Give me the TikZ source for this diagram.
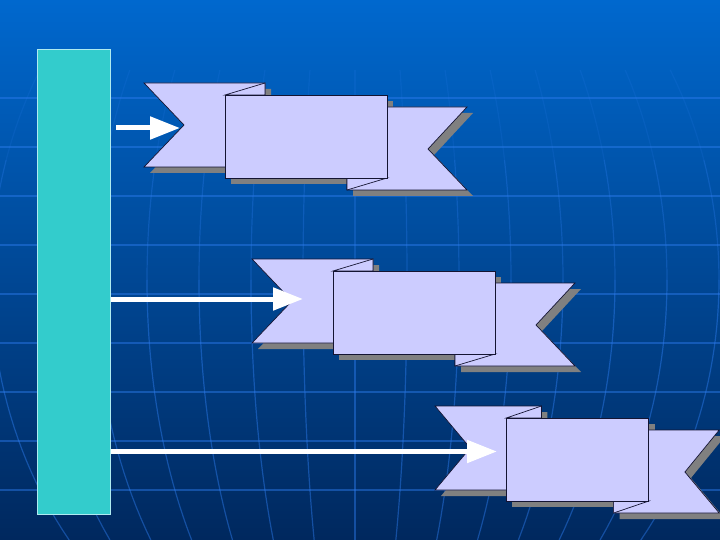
\documentclass[tikz,border=0pt]{standalone}
\usetikzlibrary{arrows.meta}
\definecolor{bgtop}{RGB}{0,104,206}
\definecolor{bgmid}{RGB}{0,72,150}
\definecolor{bgbot}{RGB}{0,40,94}
\definecolor{gridc}{RGB}{45,125,240}
\definecolor{ribbonfill}{RGB}{204,204,255}
\definecolor{ribbonline}{RGB}{20,20,50}
\definecolor{barfill}{RGB}{51,204,204}
\definecolor{barline}{RGB}{175,235,240}
\definecolor{shadowc}{RGB}{128,128,128}
\tikzset{
  ribbonpart/.style={fill=ribbonfill, draw=ribbonline, line width=0.7pt, line join=miter},
  shadowpart/.style={fill=shadowc, draw=none},
  gridline/.style={draw=gridc, line width=1.2pt, opacity=0.45},
  whitearrow/.style={draw=white, line width=5pt, -{Triangle[length=30pt,width=22pt]}},
  barbox/.style={draw=barline, fill=barfill, line width=0.8pt, inner sep=0pt},
}
\newcommand{\ribbon}[4]{%
  \begin{scope}[shift={(#2+6,#3+6)}, xscale=#4]
    \fill[shadowpart] (0,0) -- (121,0) -- (121,84) -- (0,84) -- (40,42) -- cycle;
    \fill[shadowpart] (203,24) -- (323,24) -- (284,66) -- (323,107) -- (203,107) -- cycle;
    \fill[shadowpart] (81,12) rectangle (243,95);
  \end{scope}
  \begin{scope}[shift={(#2,#3)}, xscale=#4]
    \path[ribbonpart] (0,0) -- (121,0) -- (121,84) -- (0,84) -- (40,42) -- cycle;
    \path[ribbonpart] (81,12) -- (121,0) -- (121,12) -- cycle;
    \path[ribbonpart] (203,24) -- (323,24) -- (284,66) -- (323,107) -- (203,107) -- cycle;
    \path[ribbonpart] (203,95) -- (243,95) -- (203,107) -- cycle;
    \path[ribbonpart] (81,12) rectangle (243,95);
    \coordinate (#1) at (162,53.5);
  \end{scope}%
}
\begin{document}
\begin{tikzpicture}[x=1pt, y=-1pt]
  \useasboundingbox (0,0) rectangle (720,540);
  \clip (0,0) rectangle (720,540);
  % background
  \shade[top color=bgtop, middle color=bgmid, bottom color=bgbot] (0,0) rectangle (720,540);
  \foreach \yy in {98,147,...,490}
    \draw[gridline] (0,\yy) -- (720,\yy);
  \foreach \k in {-7,...,7} {
    \draw[gridline, opacity=0.15] plot[domain=70:160, samples=12, variable=\t]
      ({355+52*\k*sqrt(1-((\t-280)/420)^2)}, \t);
    \draw[gridline, opacity=0.3] plot[domain=160:280, samples=14, variable=\t]
      ({355+52*\k*sqrt(1-((\t-280)/420)^2)}, \t);
    \draw[gridline] plot[domain=280:540, samples=24, variable=\t]
      ({355+52*\k*sqrt(1-((\t-280)/420)^2)}, \t);
  }
  % left bar
  \node[barbox, minimum width=73.5pt, minimum height=465pt] (bar) at (73.75,281.5) {};
  % ribbons
  \ribbon{r1}{144}{83}{1}
  \ribbon{r2}{252}{259}{1}
  \ribbon{r3}{435}{406}{0.88}
  % arrows
  \coordinate (s1) at (116,128);
  \coordinate (t1) at (180,128);
  \coordinate (t2) at (303,299);
  \coordinate (t3) at (497,451.5);
  \draw[whitearrow] (s1) -- (t1);
  \draw[whitearrow] (bar.east |- t2) -- (t2);
  \draw[whitearrow] (bar.east |- t3) -- (t3);
\end{tikzpicture}
\end{document}
